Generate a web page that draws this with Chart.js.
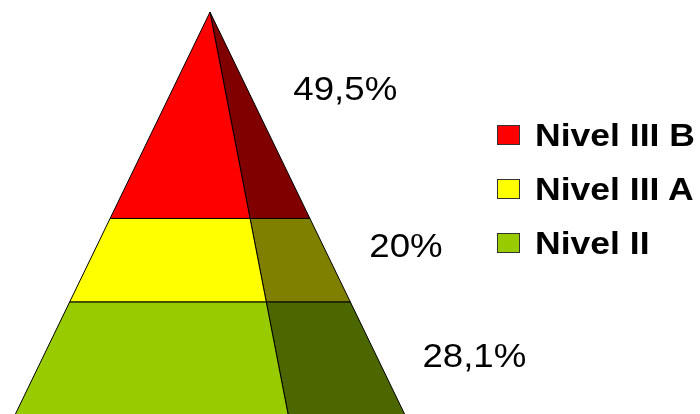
<!DOCTYPE html>
<html>
<head>
<meta charset="utf-8">
<script src="https://cdn.jsdelivr.net/npm/chart.js@4/dist/chart.umd.min.js"></script>
<style>
  html, body { margin: 0; padding: 0; background: #fff; }
  #wrap { position: relative; width: 700px; height: 414px; overflow: hidden; }
  #legend { position: absolute; left: 497px; top: 0; }
  .item { position: absolute; left: 0; height: 30px; white-space: nowrap; }
  .box { position: absolute; left: 0; width: 21px; height: 18px; border: 1px solid #333; }
  .txt { position: absolute; left: 38px; font: bold 32px "Liberation Sans", Arial, sans-serif;
         color: #000; line-height: 32px; transform: scaleX(1.11); transform-origin: left center; }
</style>
</head>
<body>
<div id="wrap">
  <canvas id="chart" width="700" height="414"></canvas>
  <div id="legend"></div>
</div>
<script>
// data, top layer first
const categories = ['Nivel III B', 'Nivel III A', 'Nivel II'];
const values = [49.5, 20, 28.1];
const valueLabels = ['49,5%', '20%', '28,1%'];
const frontColors = ['#FF0000', '#FFFF00', '#99CC00'];
const sideColors = ['#800000', '#808000', '#4C6600'];

// pyramid shape (x units)
const baseHalf = 197;   // half width at the base
const ridgeOff = 79;    // front/side ridge offset at the base
const labelDy = [-24, -12, 0]; // label nudge in px

const total = values.reduce((a, b) => a + b, 0);
const hw = v => baseHalf * (total - v) / total;
const rw = v => ridgeOff * (total - v) / total;

// cumulative bounds from the base up
const bounds = [];
let acc = 0;
for (let i = values.length - 1; i >= 0; i--) {
    bounds[i] = { lo: acc, hi: acc + values[i] };
    acc += values[i];
}

const datasets = [];
categories.forEach((cat, i) => {
    const { lo, hi } = bounds[i];
    const front = [
        { x: -hw(lo), y: lo }, { x: rw(lo), y: lo },
        { x: rw(hi), y: hi }, { x: -hw(hi), y: hi }, { x: -hw(lo), y: lo }
    ];
    const side = [
        { x: rw(lo), y: lo }, { x: hw(lo), y: lo },
        { x: hw(hi), y: hi }, { x: rw(hi), y: hi }, { x: rw(lo), y: lo }
    ];
    datasets.push({ label: cat, data: front, backgroundColor: frontColors[i] });
    datasets.push({ label: cat + ' side', data: side, backgroundColor: sideColors[i] });
});
datasets.forEach(d => Object.assign(d, {
    showLine: true, fill: 'shape', borderColor: '#000', borderWidth: 1,
    pointRadius: 0, tension: 0
}));

const valueLabelPlugin = {
    id: 'valueLabels',
    afterDatasetsDraw(chart) {
        const { ctx, scales: { x, y } } = chart;
        ctx.save();
        ctx.fillStyle = '#000';
        ctx.font = '33px "Liberation Sans", Arial, sans-serif';
        ctx.textBaseline = 'middle';
        ctx.textAlign = 'left';
        valueLabels.forEach((txt, i) => {
            const { lo, hi } = bounds[i];
            const visLo = Math.max(lo, y.min);
            const py = y.getPixelForValue((visLo + hi) / 2) + labelDy[i];
            const edge = x.getPixelForValue(hw(y.getValueForPixel(py)));
            ctx.save();
            ctx.translate(edge + 45, py);
            ctx.scale(1.11, 1);
            ctx.fillText(txt, 0, 0);
            ctx.restore();
        });
        ctx.restore();
    }
};

new Chart(document.getElementById('chart').getContext('2d'), {
    type: 'scatter',
    data: { datasets },
    options: {
        responsive: false,
        animation: false,
        layout: { padding: 0 },
        plugins: { legend: { display: false }, tooltip: { enabled: false } },
        scales: {
            x: { type: 'linear', display: false, min: -210, max: 490 },
            y: { type: 'linear', display: false, min: 1.2, max: 100.5 }
        }
    },
    plugins: [valueLabelPlugin]
});

// legend
const legend = document.getElementById('legend');
const legendTop = [135, 189, 243];
categories.forEach((cat, i) => {
    const item = document.createElement('div');
    item.className = 'item';
    item.style.top = (legendTop[i] - 15) + 'px';
    item.innerHTML = '<div class="box" style="top:5px;background:' + frontColors[i] + '"></div>' +
        '<div class="txt" style="top:-1px">' + cat + '</div>';
    legend.appendChild(item);
});
</script>
</body>
</html>
